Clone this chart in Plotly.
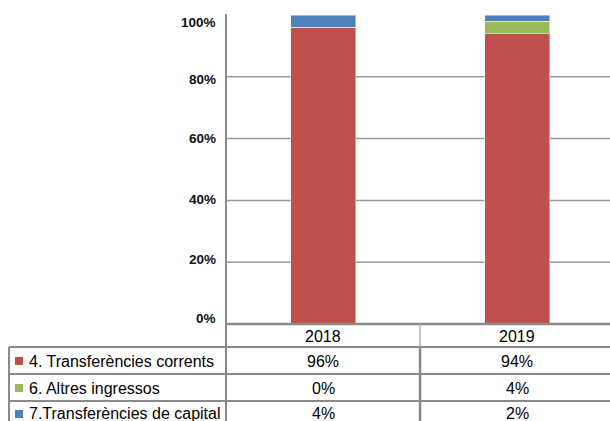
import plotly.graph_objects as go

# ---- data ----
years = ["2018", "2019"]
series_names = ["4. Transferències corrents", "6. Altres ingressos", "7.Transferències de capital"]
transf_corrents = [96, 94]
altres_ingressos = [0, 4]
transf_capital = [4, 2]
y_ticks = [0, 20, 40, 60, 80, 100]
y_tick_labels = ["0%", "20%", "40%", "60%", "80%", "100%"]

series_values = [transf_corrents, altres_ingressos, transf_capital]
colors = ["#C0504D", "#9BBB59", "#4F81BD"]

# ---- layout constants (screen pixels; page body margin removed) ----
W, H = 610, 421
PLOT_LEFT, PLOT_TOP, PLOT_BOTTOM, PLOT_RIGHT = 226, 15, 324, 610
PLOT_H = PLOT_BOTTOM - PLOT_TOP
PLOT_W = PLOT_RIGHT - PLOT_LEFT
TABLE_LEFT = 9
SQ_LEFT, SQ_SIZE, TEXT_LEFT = 15, 8, 28
ROW_LINES = [347, 374, 401, 428]
ROW_CENTERS = [336, 361, 388, 414]
LABEL_SHIFT = [6, 3, 1, 0, -3, -7]        # tick label vertical offsets (px)
GRID = "#9a9a9a"
TLINE = "#8a8a8a"


def py(p):
    return (PLOT_BOTTOM - p) / PLOT_H


def px(p):
    return (p - PLOT_LEFT) / PLOT_W


fig = go.Figure()
for name, vals, col in zip(series_names, series_values, colors):
    fig.add_trace(go.Bar(
        x=years, y=vals, name=name, marker_color=col,
        marker_line=dict(color="rgba(255,255,255,0.45)", width=1),
        width=0.335,
    ))

shapes = []
for v in y_ticks[1:-1]:
    shapes.append(dict(type="line", xref="paper", yref="y", x0=0, x1=1, y0=v, y1=v,
                       line=dict(color=GRID, width=1.5), layer="below"))
shapes.append(dict(type="line", xref="paper", yref="paper", x0=0, x1=0,
                   y0=py(PLOT_TOP - 1), y1=py(ROW_LINES[-1]), line=dict(color=TLINE, width=2)))
shapes.append(dict(type="line", xref="paper", yref="paper", x0=0, x1=1,
                   y0=0, y1=0, line=dict(color=TLINE, width=2.5)))
for r in ROW_LINES:
    shapes.append(dict(type="line", xref="paper", yref="paper", x0=px(TABLE_LEFT), x1=1,
                       y0=py(r), y1=py(r), line=dict(color=TLINE, width=2)))
shapes.append(dict(type="line", xref="paper", yref="paper", x0=px(TABLE_LEFT), x1=px(TABLE_LEFT),
                   y0=py(ROW_LINES[0]), y1=py(ROW_LINES[-1]), line=dict(color=TLINE, width=2)))
shapes.append(dict(type="line", xref="x", yref="paper", x0=0.5, x1=0.5,
                   y0=0, y1=py(ROW_LINES[0]), line=dict(color="#b0b0b0", width=1.5)))
shapes.append(dict(type="line", xref="x", yref="paper", x0=0.5, x1=0.5,
                   y0=py(ROW_LINES[0]), y1=py(ROW_LINES[-1]), line=dict(color=TLINE, width=2.5)))
for r, col in enumerate(colors):
    c = ROW_CENTERS[r + 1]
    shapes.append(dict(type="rect", xref="paper", yref="paper",
                       x0=px(SQ_LEFT), x1=px(SQ_LEFT + SQ_SIZE),
                       y0=py(c - SQ_SIZE / 2), y1=py(c + SQ_SIZE / 2),
                       fillcolor=col, line=dict(width=0)))

annotations = []
afont = dict(family="Liberation Sans", size=13.5, color="#111111", weight="bold")
for v, lab, s in zip(y_ticks, y_tick_labels, LABEL_SHIFT):
    annotations.append(dict(xref="paper", yref="y", x=0, y=v, text=lab, showarrow=False,
                            xanchor="right", yanchor="middle", xshift=-8, yshift=s,
                            font=afont))

tfont = dict(family="Liberation Sans", size=16, color="#000000")
for i, yr in enumerate(years):
    annotations.append(dict(xref="x", yref="paper", x=i, y=py(ROW_CENTERS[0]), text=yr,
                            showarrow=False, xanchor="center", yanchor="middle", font=tfont))
for r, (name, vals) in enumerate(zip(series_names, series_values)):
    yc = py(ROW_CENTERS[r + 1])
    annotations.append(dict(xref="paper", yref="paper", x=px(TEXT_LEFT), y=yc,
                            text=name, xshift=-1,
                            showarrow=False, xanchor="left", yanchor="middle", font=tfont))
    for i, v in enumerate(vals):
        annotations.append(dict(xref="x", yref="paper", x=i, y=yc, text=f"{v}%",
                                showarrow=False, xanchor="center", yanchor="middle", font=tfont))

fig.update_layout(
    width=W, height=H,
    margin=dict(l=PLOT_LEFT, r=W - PLOT_RIGHT, t=PLOT_TOP, b=H - PLOT_BOTTOM, pad=0),
    barmode="stack",
    showlegend=False,
    hovermode=False,
    plot_bgcolor="white", paper_bgcolor="white",
    xaxis=dict(type="category", range=[-0.5, 1.479], showticklabels=False, showgrid=False,
               zeroline=False, showline=False, ticks=""),
    yaxis=dict(range=[0, 100], showticklabels=False, showgrid=False, zeroline=False,
               showline=False, ticks=""),
    shapes=shapes,
    annotations=annotations,
)

fig.write_html("out.html",
               config={"displayModeBar": False, "staticPlot": True},
               post_script="document.body.style.margin='0';document.body.style.overflow='hidden';")
